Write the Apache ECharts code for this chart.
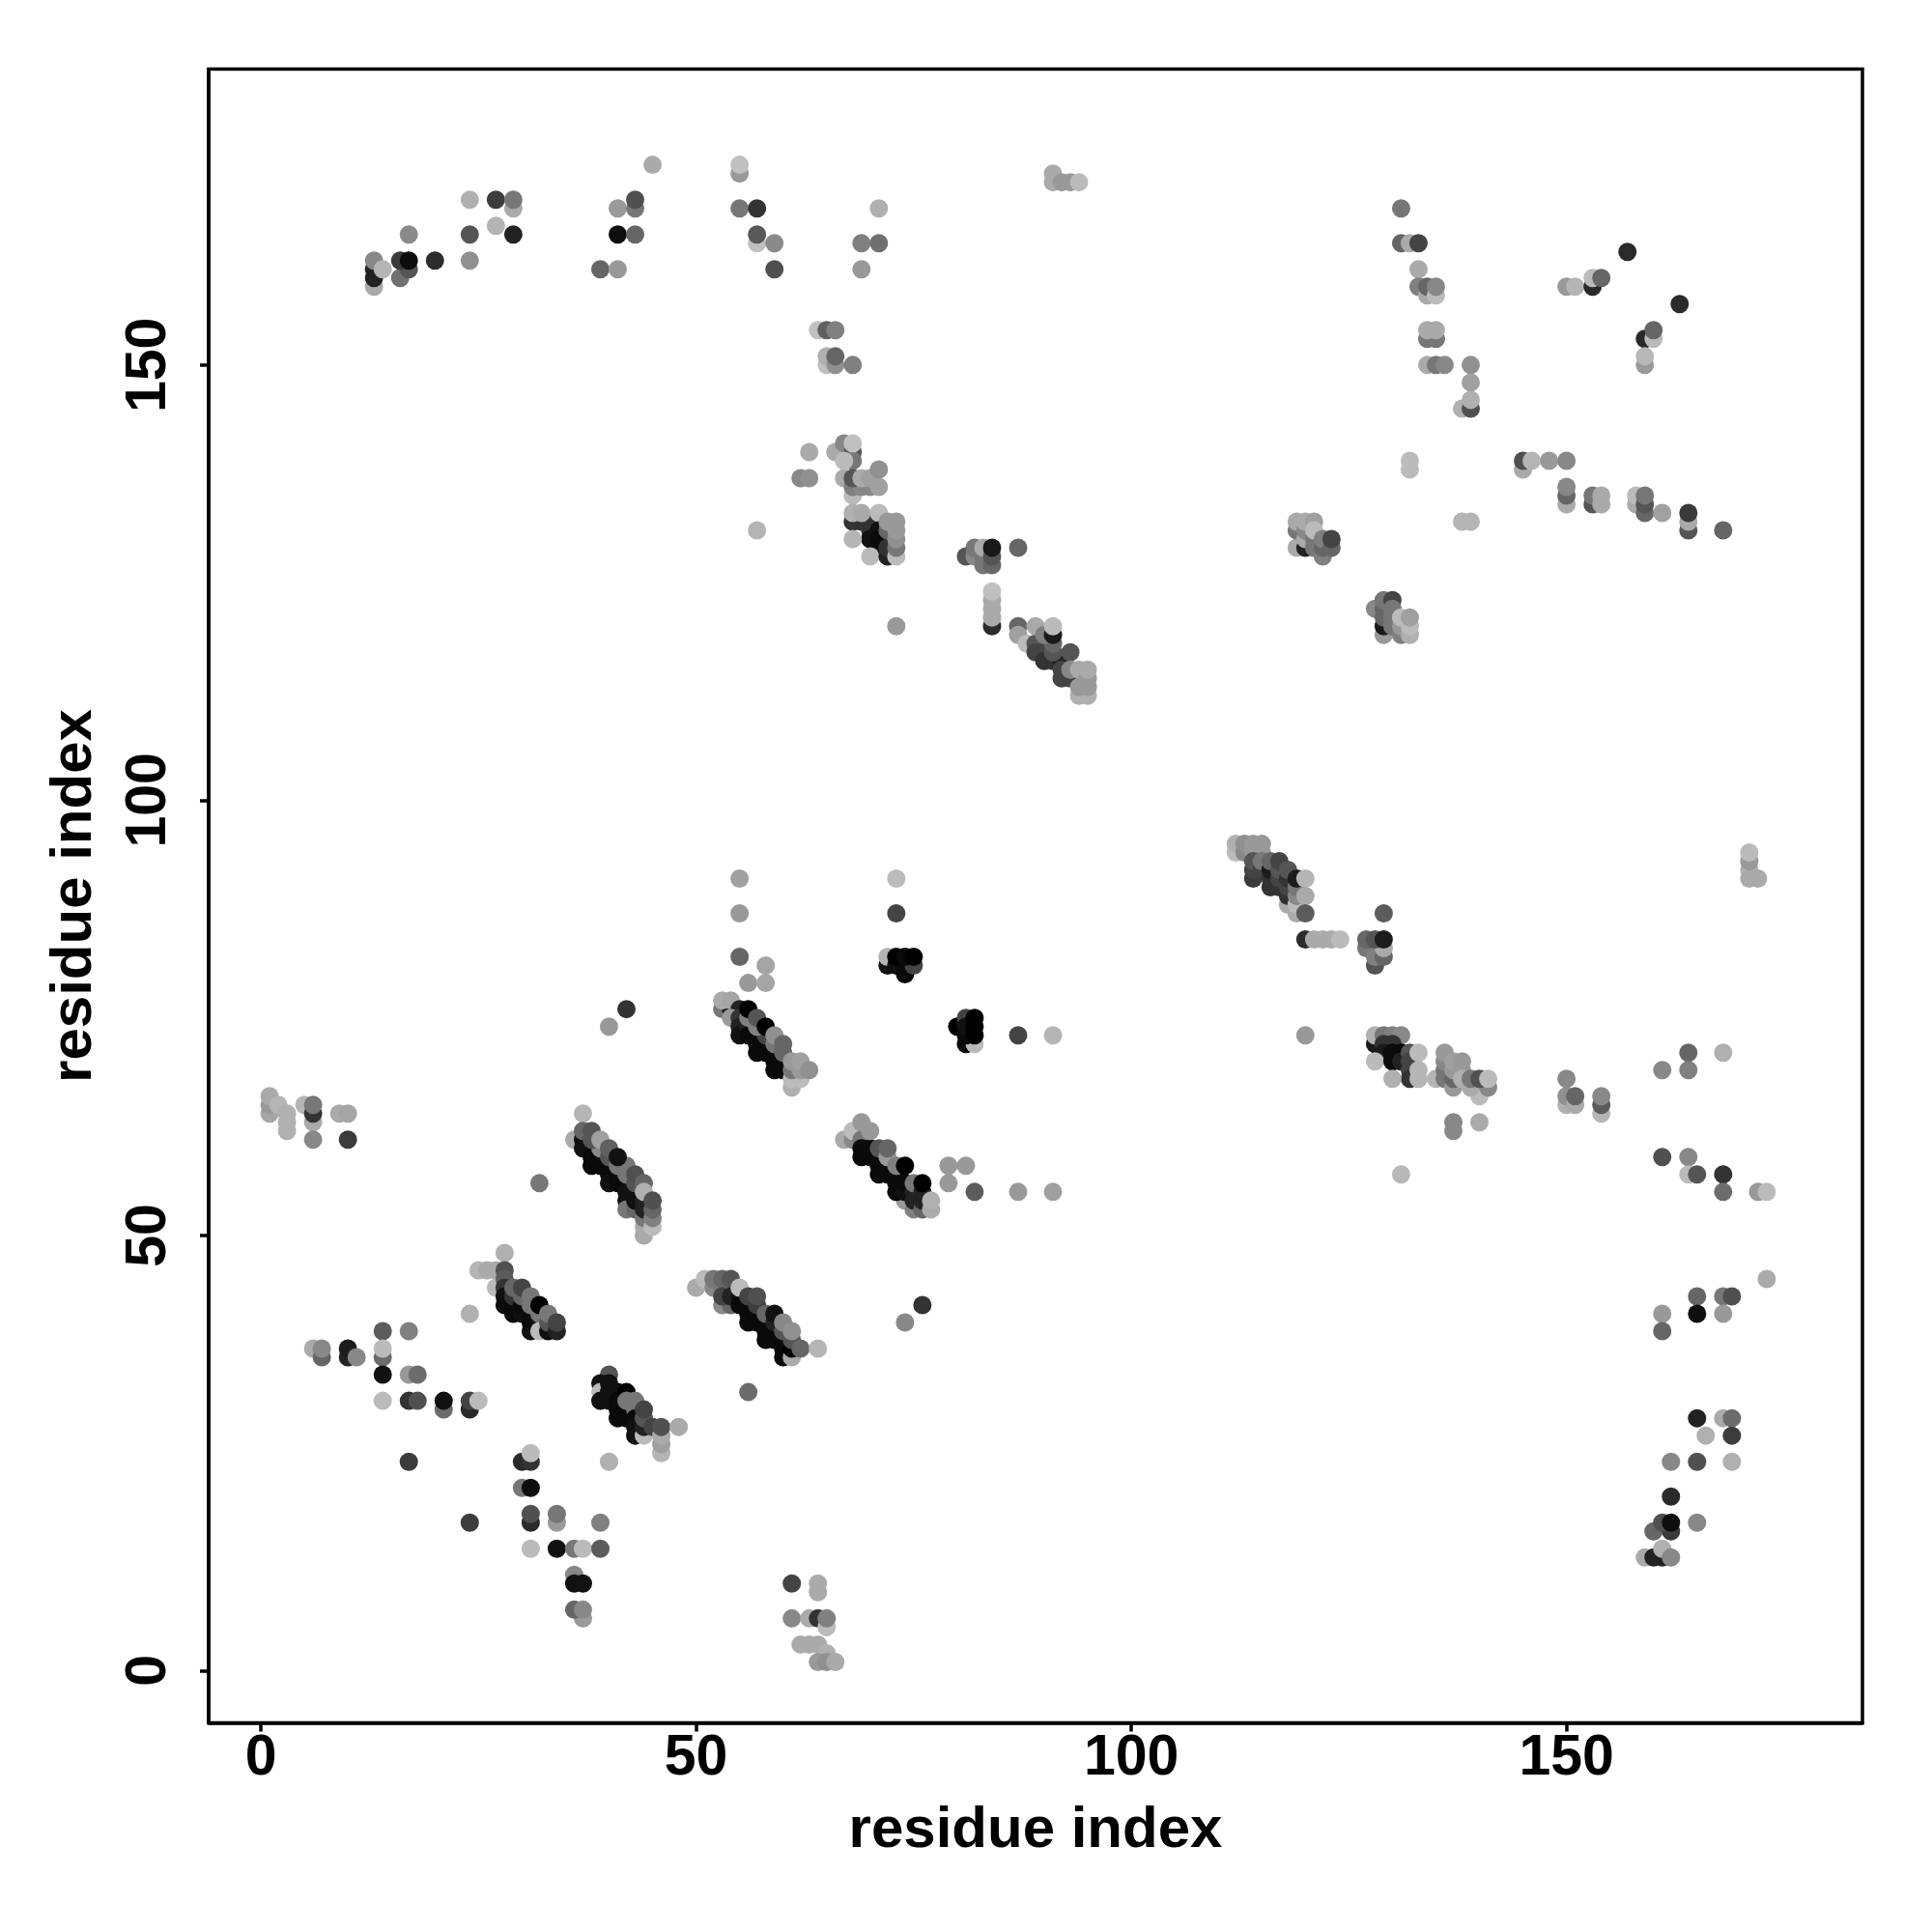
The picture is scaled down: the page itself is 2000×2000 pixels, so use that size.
<!DOCTYPE html>
<html><head><meta charset="utf-8">
<script src="https://cdn.jsdelivr.net/npm/echarts@6/dist/echarts.min.js"></script>
<style>html,body{margin:0;padding:0;background:#fff}#c{width:2000px;height:2000px}</style>
</head><body><div id="c"></div>
<script>
// each entry: [residue i, residue j, grey level]
const xTicks=[0,50,100,150];
const yTicks=[0,50,100,150];
const axisTitle='residue index';
const topLeft=[[13,159,170],[13,160,34],[13,161,34],[13,162,136],[16,160,112],[14,161,181],[17,161,85],[16,162,58],[17,162,12],[17,165,138],[20,162,44],[24,162,144],[24,165,85],[24,169,176],[27,169,60],[27,166,180],[29,168,170],[29,169,119],[29,165,34],[39,161,102],[41,161,153],[41,168,153],[41,165,14],[43,165,102],[43,168,119],[43,169,80],[45,173,170],[55,172,153],[55,173,192],[55,168,119],[57,168,51],[57,164,192],[57,165,89],[59,164,138],[59,161,80],[69,164,128],[71,164,112],[71,168,176],[69,161,153],[91,172,170],[91,171,170],[92,171,153],[93,171,153],[94,171,187]];
const topMid=[[64,154,192],[65,154,96],[66,154,128],[65,150,192],[65,151,176],[66,150,144],[66,151,102],[68,150,128],[63,140,170],[62,137,136],[63,137,144],[66,140,170],[67,137,170],[67,141,136],[68,140,85],[68,139,119],[67,139,187],[68,135,187],[68,136,128],[69,136,136],[70,136,136],[68,137,85],[69,137,170],[70,137,160],[71,136,160],[71,138,144],[68,141,192]];
const topMid2=[[68,132,51],[69,132,51],[70,132,51],[70,131,51],[68,133,176],[69,133,170],[71,133,187],[71,131,17],[70,130,17],[71,129,17],[71,130,10],[68,130,181],[70,128,187],[72,128,34],[72,129,51],[72,131,102],[73,128,187],[73,129,119],[73,130,144],[73,131,153],[72,132,153],[73,132,153],[57,131,181],[73,120,153]];
const topMid3=[[81,128,85],[82,128,136],[82,129,119],[83,127,119],[83,128,119],[83,129,170],[84,127,102],[84,128,85],[84,129,26],[87,129,102],[84,120,44],[84,121,170],[84,122,170],[84,123,170],[84,124,192]];
const strandA=[[87,120,102],[87,119,160],[88,118,187],[89,118,85],[90,118,85],[89,117,68],[90,117,68],[90,116,51],[91,116,51],[92,116,34],[91,117,85],[91,118,102],[89,120,170],[90,119,128],[91,119,26],[91,120,187],[93,117,85],[92,115,68],[92,114,68],[93,114,68],[93,115,136],[94,115,170],[94,112,176],[95,112,176],[94,113,153],[95,113,153],[95,114,153],[95,115,170]];
const topRight=[[131,168,119],[131,164,102],[132,164,170],[133,164,68],[133,161,170],[133,159,128],[134,158,170],[134,159,102],[135,158,187],[135,159,136],[134,153,119],[135,153,119],[134,154,170],[135,154,170],[134,150,170],[135,150,119],[136,150,136],[139,150,144],[139,148,160],[138,145,176],[139,145,80],[139,146,176],[132,138,187],[132,139,187],[138,132,181],[139,132,181],[150,159,153],[151,159,181],[153,159,42],[153,160,187],[154,160,102],[157,163,42],[163,157,42],[159,153,42],[160,153,187],[160,154,102],[159,150,153],[159,151,184]];
const upperRow=[[145,138,170],[145,139,80],[146,139,181],[148,139,153],[150,139,136],[150,134,170],[150,135,102],[150,136,136],[153,134,85],[153,135,119],[154,134,170],[154,135,170],[158,134,170],[158,135,187],[159,133,102],[159,134,85],[159,135,119],[161,133,160],[164,131,85],[164,132,170],[164,133,58],[168,131,102]];
const clusterB=[[119,129,170],[119,131,119],[119,132,170],[120,129,34],[120,130,170],[120,131,136],[120,132,170],[121,132,160],[121,129,119],[121,130,119],[121,131,187],[122,128,128],[122,129,102],[122,130,128],[123,129,102],[123,130,68]];
const clusterC=[[128,122,136],[129,119,153],[129,120,26],[129,121,102],[129,122,102],[129,123,119],[130,123,68],[130,120,119],[130,121,119],[130,122,119],[131,119,128],[131,120,153],[131,121,187],[132,119,176],[132,120,187],[132,121,160]];
const strandB=[[112,94,187],[112,95,176],[113,94,136],[113,95,144],[114,94,153],[114,95,153],[115,94,153],[115,95,153],[114,91,58],[114,92,68],[114,93,85],[115,92,68],[115,93,119],[116,90,51],[116,91,51],[116,92,28],[116,93,102],[117,90,51],[117,91,68],[117,92,85],[117,93,68],[118,88,170],[118,89,51],[118,90,68],[118,91,51],[118,92,85],[119,87,170],[119,88,187],[119,89,136],[119,90,119],[119,91,28],[120,91,181],[120,89,170],[120,87,92]];
const midRight=[[120,84,44],[121,84,170],[122,84,170],[123,84,170],[124,84,187],[129,87,92],[127,83,119],[128,83,119],[128,81,85],[128,82,128],[129,82,102],[129,83,170],[127,84,102],[128,84,85],[129,84,28],[120,73,153]];
const strandC=[[128,72,26],[128,73,176],[129,73,119],[130,73,128],[131,73,136],[129,72,51],[130,72,51],[129,71,26],[130,71,12],[131,71,10],[128,70,187],[130,70,12],[131,70,34],[132,71,85],[132,70,68],[132,69,68],[132,68,51],[133,71,187],[130,68,176],[133,69,181],[133,68,181],[135,68,181],[136,68,119],[136,69,119],[136,70,136],[136,71,153],[137,67,153],[137,68,102],[137,69,153],[137,70,160],[138,69,153],[138,70,153],[138,68,176],[140,66,187],[139,67,170],[141,67,136],[139,68,119],[140,68,80],[141,68,187],[137,62,136],[137,63,136],[140,63,170],[131,57,184]];
const lowerRight=[[150,68,136],[150,65,176],[150,66,144],[151,65,170],[151,66,102],[154,64,181],[154,65,92],[154,66,136],[161,69,136],[164,71,102],[164,69,128],[168,71,176],[161,59,80],[164,59,136],[164,57,187],[165,57,85],[168,57,51],[168,55,108],[172,55,153],[173,55,187],[171,92,176],[171,91,170],[172,91,170],[171,93,153],[171,94,187],[173,45,170],[165,43,102],[168,43,119],[169,43,80],[165,41,14],[168,41,153],[161,41,153],[161,39,102],[168,29,170],[165,29,34],[169,29,108],[166,27,176],[169,27,60],[162,24,136],[165,24,80],[169,24,176],[162,20,42],[160,16,102],[162,16,58],[161,17,80],[162,17,14],[165,17,136],[159,13,170],[160,13,34],[161,13,34],[161,14,176],[162,13,136]];
const leftEdge=[[1,64,165],[1,65,153],[1,66,170],[2,65,181],[3,62,176],[3,63,176],[3,64,176],[5,65,181],[6,63,170],[6,64,51],[6,65,119],[6,61,136],[9,64,170],[10,64,165],[10,61,60],[42,76,51],[40,74,153],[32,56,119]];
const strandD=[[37,64,181],[36,61,170],[37,61,17],[37,60,17],[37,62,102],[38,60,17],[38,59,10],[38,58,10],[39,59,10],[39,58,10],[40,58,10],[40,57,10],[40,56,17],[41,57,10],[41,56,10],[42,56,10],[42,55,17],[42,54,17],[42,53,119],[43,55,17],[43,53,102],[43,54,17],[44,50,170],[44,51,170],[44,52,119],[44,53,34],[44,54,34],[39,60,136],[38,61,85],[38,62,85],[39,61,160],[40,59,85],[40,60,96],[41,58,119],[42,57,119],[42,58,119],[41,59,17],[43,56,85],[43,57,80],[44,56,102],[44,55,176],[45,51,187],[45,52,128],[45,53,102],[45,54,80]];
const strandE=[[24,41,176],[25,46,181],[26,46,170],[27,46,170],[27,44,187],[28,48,176],[28,46,80],[28,45,92],[28,44,51],[28,43,17],[28,42,12],[29,42,12],[29,41,10],[29,43,51],[29,44,102],[30,41,17],[30,42,10],[30,43,102],[30,44,68],[31,39,17],[31,40,10],[31,41,12],[31,43,119],[31,42,119],[32,40,17],[32,41,119],[32,39,187],[32,42,0],[33,39,17],[33,40,85],[33,41,119],[34,39,34],[34,40,68]];
const strandF=[[40,34,85],[39,33,17],[39,32,187],[39,31,17],[40,33,17],[40,32,17],[40,31,17],[41,32,17],[41,31,10],[41,30,10],[41,29,10],[42,29,10],[42,30,10],[42,32,0],[42,31,119],[43,31,119],[43,30,119],[43,29,12],[43,28,17],[43,27,17],[44,27,187],[44,28,34],[44,29,85],[44,30,68],[45,28,68],[46,25,181],[46,26,160],[46,27,170],[46,28,80],[48,28,170]];
const lowLeft=[[6,37,170],[7,36,102],[7,37,136],[10,36,34],[10,37,28],[11,36,136],[14,39,92],[17,39,128],[14,36,108],[14,37,187],[14,34,17],[17,34,153],[18,34,108],[14,31,187],[17,31,51],[18,31,80],[21,30,108],[21,31,17],[24,30,42],[24,31,68],[25,31,187],[17,24,60],[24,17,60],[30,24,42],[31,24,51],[31,25,187],[30,21,119],[31,21,14],[31,17,42],[31,18,80],[34,17,153],[34,18,119],[39,17,128],[31,14,187],[34,14,17],[36,14,119],[37,14,187],[39,14,92],[36,11,136],[36,10,17],[37,10,17],[37,6,153],[36,7,102],[37,7,136],[40,24,176],[56,32,108]];
const strandG=[[50,44,170],[51,45,187],[52,44,136],[52,45,119],[53,44,119],[53,45,102],[54,45,85],[53,42,136],[54,42,102],[53,43,68],[54,43,34],[55,43,17],[55,42,10],[55,44,187],[56,40,10],[56,41,10],[56,42,10],[56,43,68],[57,40,10],[57,41,10],[57,42,60],[57,43,80],[58,38,10],[58,39,10],[58,40,10],[58,41,102],[59,38,10],[59,39,10],[59,40,34],[59,41,17],[60,36,10],[60,37,10],[60,38,10],[60,39,85],[60,40,136],[61,36,170],[61,37,0],[61,38,85],[61,39,144],[62,37,102],[64,37,181],[74,40,136],[76,42,51],[61,10,68],[64,9,170],[64,10,170],[61,6,136],[63,6,170],[64,6,51],[65,5,187],[65,6,128],[62,3,170],[63,3,170],[64,3,170],[65,2,176],[64,1,153],[65,1,144],[66,1,170]];
const strandH=[[55,91,160],[55,87,153],[55,82,102],[58,81,165],[56,79,153],[58,79,165],[73,91,187],[73,87,68],[53,76,119],[54,76,26],[53,77,170],[54,77,165],[55,76,34],[54,75,153],[55,75,51],[55,74,34],[55,73,17],[56,74,34],[56,73,10],[57,73,10],[57,72,10],[57,71,10],[58,72,10],[58,71,10],[59,71,10],[59,70,10],[59,69,10],[60,70,10],[60,69,10],[58,73,68],[59,72,119],[56,75,128],[56,76,0],[57,74,128],[57,75,85],[58,74,0],[59,73,144],[60,71,102],[60,72,102],[61,67,176],[61,68,187],[62,68,187],[61,69,119],[62,69,153],[61,70,153],[62,70,160],[63,69,144]];
const blackPatches=[[72,81,17],[72,82,181],[73,81,17],[74,80,10],[74,81,10],[75,81,68],[73,82,0],[74,82,10],[75,82,0],[80,74,0],[81,75,68],[81,72,10],[82,72,187],[81,73,10],[81,74,17],[82,73,0],[82,74,0],[82,75,0],[87,73,68],[91,73,181]];
const strandI=[[74,54,153],[75,53,128],[67,61,170],[68,61,136],[68,62,187],[69,61,119],[69,60,10],[69,59,10],[69,63,153],[70,60,10],[70,59,10],[70,62,153],[71,58,10],[71,57,10],[71,59,10],[71,60,85],[72,57,10],[72,58,10],[72,59,153],[72,60,102],[73,55,10],[73,56,10],[73,57,10],[73,58,128],[74,55,17],[74,56,10],[74,58,0],[75,55,34],[75,54,34],[75,56,119],[76,53,102],[76,54,34],[76,55,34],[76,56,0],[77,53,170],[77,54,176],[79,58,153],[81,58,153],[79,56,153],[82,55,92],[87,55,153],[91,55,160]];
const groups=[topLeft,topMid,topMid2,topMid3,strandA,topRight,upperRow,clusterB,clusterC,strandB,midRight,strandC,lowerRight,leftEdge,strandD,strandE,strandF,lowLeft,strandG,strandH,blackPatches,strandI];
const points=[].concat(...groups).map(p=>({value:[p[0],p[1]],itemStyle:{color:`rgb(${p[2]},${p[2]},${p[2]})`,opacity:1}}));
const font={fontFamily:'"Liberation Sans"',fontWeight:'bold',fontSize:59,color:'#000'};
const titleFont={...font,fontSize:60};
const line={lineStyle:{color:'#000',width:3.5}};
function ax(ticks){return {type:'value',min:-6,max:184,splitLine:{show:false},axisLine:{show:true,onZero:false,...line},
  axisTick:{show:true,length:9,customValues:ticks,...line}};}
const chart=echarts.init(document.getElementById('c'),null,{renderer:'canvas'});
chart.setOption({animation:false,backgroundColor:'#fff',
 grid:{left:216,top:71.5,width:1712,height:1712,show:true,borderColor:'#000',borderWidth:3.5,backgroundColor:'transparent'},
 xAxis:{...ax(xTicks),axisLabel:{customValues:xTicks,margin:8,...font},name:axisTitle,nameLocation:'middle',nameGap:82,nameTextStyle:titleFont},
 yAxis:{...ax(yTicks),axisLabel:{customValues:yTicks,rotate:90,margin:32,...font},name:axisTitle,nameLocation:'middle',nameGap:109,nameRotate:90,nameTextStyle:titleFont},
 series:[{type:'scatter',symbol:'circle',symbolSize:19,data:points,clip:false,progressive:0,emphasis:{disabled:true},itemStyle:{opacity:1}}]
});
</script></body></html>
